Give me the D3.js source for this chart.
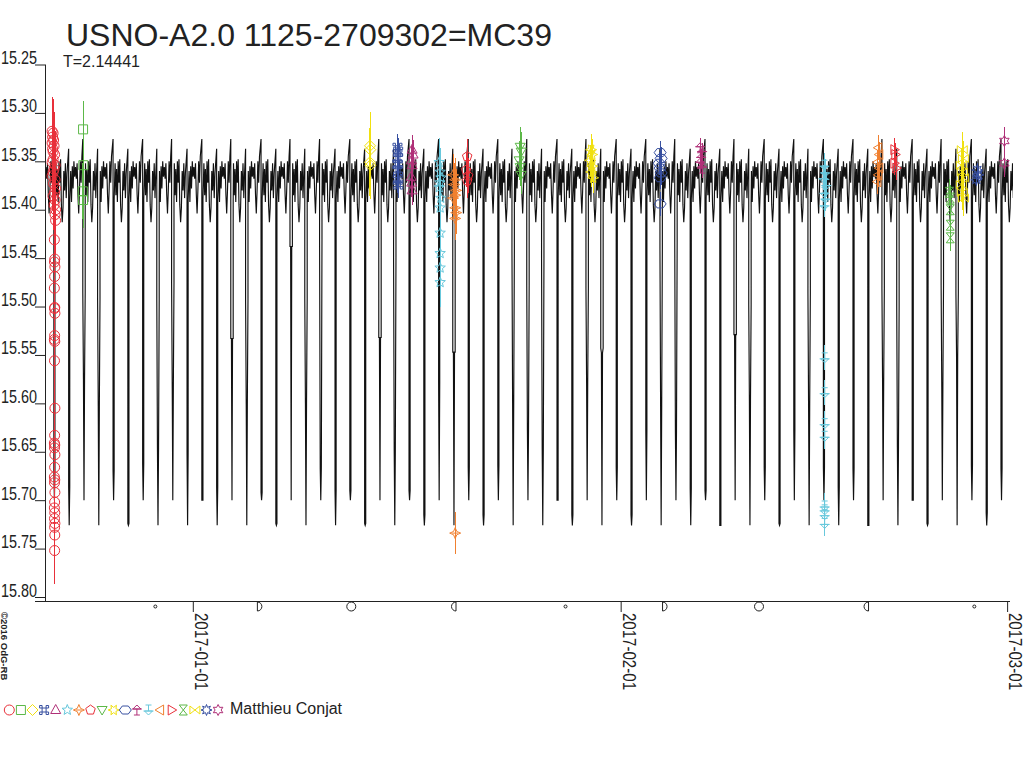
<!DOCTYPE html>
<html>
<head>
<meta charset="utf-8">
<script src="https://cdn.jsdelivr.net/npm/d3@7"></script>
<style>
body{margin:0;background:#fff}
text{font-family:"Liberation Sans",Arial,sans-serif;fill:#222}
</style>
</head>
<body>
<svg id="chart" width="1024" height="768"></svg>
<script>
// model ephemeris (period from the chart) and eclipse shape
const period = 2.14441
const epoch = new Date('2016-12-21T23:21:00Z')   // secondary minimum
const minSecondary = 15.700, minPrimary = 15.726
const topSecondary = 15.327, topPrimary = 15.337

// per eclipse: level where the two walls merge into one stroke
const eclipseThick = [15.669,15.686,15.575,15.603,15.669,15.724,15.662,15.646,15.584,15.651,
	15.700,15.686,15.533,15.601,15.692,15.724,15.438,15.600,15.667,15.690,
	15.690,15.724,15.532,15.650,15.690,15.715,15.578,15.547,15.666,15.715,
	15.664,15.600,15.628,15.648,15.700,15.715,15.579,15.548,15.666,15.715,
	15.628,15.602,15.628,15.688,15.690,15.726,15.529,15.597,15.666,15.724,
	15.628,15.604,15.666,15.686,15.667,15.726,15.579,15.645,15.700,15.724,
	15.583,15.552,15.664,15.713,15.667]
// per eclipse: level down to which the walls stay apart (null = none)
const eclipseDouble = [null,null,15.485,15.492,null,null,null,15.493,15.475,null,
	null,null,15.533,15.493,null,null,15.438,15.492,15.431,null,
	null,null,15.532,15.449,null,null,null,15.547,null,null,
	null,15.442,15.478,15.450,null,null,15.481,15.543,null,null,
	null,15.440,15.434,null,null,null,15.529,15.498,null,null,
	null,15.486,null,null,null,null,15.481,15.500,null,null,
	15.478,15.486,null,null,null]

// out of eclipse wiggle, phase 0 = secondary minimum
const profilePhase = [0.051,0.078,0.101,0.128,0.155,0.182,0.209,0.236,0.264,0.291,0.318,0.345,0.372,0.399,0.426,
	0.551,0.578,0.605,0.632,0.659,0.686,0.713,0.740,0.767,0.794,0.821,0.848,0.875,0.902,0.929]
const profileMag = [15.352,15.385,15.358,15.392,15.350,15.372,15.348,15.395,15.413,15.398,15.360,15.380,15.352,15.388,15.362,
	15.360,15.392,15.355,15.378,15.350,15.366,15.356,15.368,15.352,15.384,15.404,15.380,15.350,15.372,15.345]

// observations: [days since 2017-01-01 UT, magnitude], one array per night
const night01 = [[-10.196,15.319],[-10.123,15.321],[-10.159,15.325],[-10.087,15.328],[-10.196,15.331],[-10.051,15.334],
	[-10.159,15.337],[-10.123,15.340],[-10.014,15.343],[-10.123,15.348],[-10.196,15.351],[-9.978,15.354],[-10.051,15.358],
	[-10.123,15.361],[-10.196,15.365],[-9.978,15.369],[-10.087,15.373],[-9.942,15.378],[-10.014,15.382],[-10.123,15.386],
	[-9.978,15.390],[-10.051,15.395],[-9.942,15.400],[-9.978,15.405],[-9.942,15.411],
	[-10.03,15.431],[-10.00,15.451],[-10.02,15.454],[-9.99,15.459],[-10.01,15.469],[-10.03,15.481],[-10.00,15.501],
	[-10.02,15.502],[-9.99,15.507],[-10.01,15.530],[-10.03,15.534],[-10.00,15.536],[-10.02,15.556],[-9.99,15.605],
	[-10.01,15.633],[-10.03,15.641],[-10.00,15.643],[-10.02,15.646],[-9.99,15.653],[-10.01,15.666],[-10.03,15.676],
	[-10.00,15.679],[-10.02,15.682],[-9.99,15.692],[-10.01,15.702],[-10.03,15.708],[-10.00,15.713],[-10.02,15.719],
	[-9.99,15.724],[-10.01,15.728],[-10.00,15.736],[-10.01,15.752]]
const night02 = [[-7.95,15.317],[-7.93,15.354],[-7.97,15.381],[-7.95,15.390]]
const night03 = [[12.84,15.334],[12.86,15.338],[12.83,15.351],[12.87,15.354]]
const night04 = [[14.83,15.336],[14.88,15.340],[14.86,15.347],[14.82,15.353],[14.87,15.359],[14.85,15.369],[14.89,15.374]]
const night05 = [[15.89,15.338],[15.96,15.343],[15.85,15.349],[15.89,15.354],[15.82,15.366],[15.86,15.372],[15.89,15.380]]
const night06 = [[17.85,15.351],[17.92,15.361],[17.98,15.367],[17.90,15.372],[17.86,15.377],[17.97,15.388],[17.92,15.398],
	[17.92,15.424],[17.92,15.445],[17.92,15.460],[17.92,15.475]]
const night07 = [[18.86,15.364],[19.01,15.369],[18.93,15.374],[19.08,15.380],[19.01,15.385],[18.86,15.388],[19.01,15.398],
	[19.08,15.403],[19.01,15.409],[19.01,15.734]]
const night08 = [[19.88,15.345],[19.80,15.359],[19.95,15.365],[19.88,15.370]]
const night09 = [[23.72,15.335],[23.79,15.340],[23.64,15.349],[23.72,15.356],[23.79,15.364]]
const night10 = [[28.86,15.338],[28.94,15.343],[28.79,15.349],[28.94,15.355],[28.86,15.361],[29.01,15.367]]
const night11 = [[33.86,15.341],[33.93,15.347],[33.79,15.352],[33.86,15.357],[33.93,15.362],[33.86,15.367],[33.86,15.394]]
const night12 = [[36.76,15.336],[36.90,15.341],[36.83,15.347],[36.76,15.352],[36.90,15.357]]
const night13 = [[45.76,15.354],[45.83,15.361],[45.69,15.367],[45.90,15.374],[45.76,15.382],[45.83,15.388],[45.76,15.395],
	[45.78,15.553],[45.78,15.589],[45.78,15.621],[45.78,15.634],[45.78,15.706],[45.78,15.710],[45.78,15.715],[45.78,15.724]]
const night14 = [[49.67,15.336],[49.74,15.343],[49.60,15.351],[49.74,15.357],[49.67,15.364],[49.60,15.371]]
const night15 = [[50.83,15.338],[50.90,15.343],[50.83,15.352],[50.97,15.357]]
const night16 = [[54.81,15.382],[54.88,15.388],[54.88,15.400],[54.88,15.416],[54.88,15.429]]
const night17 = [[55.75,15.338],[55.83,15.347],[55.68,15.354],[55.75,15.361],[55.83,15.367],[55.68,15.374],[55.75,15.382],[55.83,15.388]]
const night18 = [[56.84,15.359],[56.91,15.364],[56.77,15.369]]
const night19 = [[58.80,15.329],[58.80,15.352]]
const nights = [night01,night02,night03,night04,night05,night06,night07,night08,night09,night10,
	night11,night12,night13,night14,night15,night16,night17,night18,night19]
const nightErr = [0.035,0.029,0.035,0.014,0.015,0.025,0.022,0.018,0.02,0.016,0.012,0.01,0.013,0.013,0.012,0.014,0.018,0.007,0.014]

const palette = ['#e8303a','#5cb848','#f0e010','#3850a0','#b03078','#68c8dc','#f08030']

const moonDates = ['2016-12-29T06:53Z','2017-01-05T19:47Z','2017-01-12T11:34Z','2017-01-19T22:13Z','2017-01-28T00:07Z',
	'2017-02-04T04:19Z','2017-02-11T00:33Z','2017-02-18T19:33Z','2017-02-26T14:58Z']
const moonPhases = ['new','first','full','last','new','first','full','last','new']

const monthTicks = ['2017-01-01','2017-02-01','2017-03-01']
const magTicks = [15.25,15.30,15.35,15.40,15.45,15.50,15.55,15.60,15.65,15.70,15.75,15.80]

const title = 'USNO-A2.0 1125-2709302=MC39'
const subtitle = 'T=2.14441'
const observer = 'Matthieu Conjat'

const DAY = 864e5
const t17 = Date.UTC(2017,0,1)

const svg = d3.select('#chart')

const x = d3.scaleUtc()
	.domain([new Date('2016-12-21T07:00:00Z'), new Date('2017-03-01T05:00:00Z')])
	.range([45,1010])
const y = d3.scaleLinear()
	.domain([15.25,15.80])
	.range([64.5,597])
const pxMs = (x.domain()[1]-x.domain()[0])/(x.range()[1]-x.range()[0])

// symbols
function poly(pts){
	return 'M'+pts.map(p=>p[0].toFixed(2)+','+p[1].toFixed(2)).join('L')+'Z'
}
function star(n,ro,ri,rot){
	const pts=[]
	for(let k=0;k<2*n;k++){
		const r=k%2?ri:ro, a=rot+k*Math.PI/n
		pts.push([r*Math.cos(a),r*Math.sin(a)])
	}
	return poly(pts)
}
function ngon(n,r,rot){
	const pts=[]
	for(let k=0;k<n;k++){
		const a=rot+k*2*Math.PI/n
		pts.push([r*Math.cos(a),r*Math.sin(a)])
	}
	return poly(pts)
}
const up=-Math.PI/2
const symbols=[
	'M5,0A5,5 0 1,1 -5,0A5,5 0 1,1 5,0Z',
	poly([[-4.5,-4.5],[4.5,-4.5],[4.5,4.5],[-4.5,4.5]]),
	poly([[0,-5.5],[5.5,0],[0,5.5],[-5.5,0]]),
	'M-2,-2H2V2H-2Z M-4.5,-4.5H-2V-2H-4.5Z M2,-4.5H4.5V-2H2Z M2,2H4.5V4.5H2Z M-4.5,2H-2V4.5H-4.5Z',
	poly([[0,-5.5],[5,3.5],[-5,3.5]]),
	star(5,5.5,2.4,up),
	star(4,5.5,2.3,up)+' M-3,0H3',
	ngon(5,5,up),
	poly([[0,5],[5,-3.5],[-5,-3.5]]),
	star(6,5.5,2.6,0),
	poly([[-6,0],[-3,-4],[3,-4],[6,0],[3,4],[-3,4]]),
	'M0,-5L4,-1L-4,-1Z M-5,-1H5 M0,-1V5 M-3,5H3',
	'M0,5L4,1L-4,1Z M-5,1H5 M0,1V-5 M-3,-5H3',
	poly([[-5,0],[3.5,-5],[3.5,5]]),
	poly([[5,0],[-3.5,-5],[-3.5,5]]),
	'M-4,-5H4L-4,5H4Z',
	'M-5,-4V4L5,-4V4Z',
	star(8,5.5,2.8,up),
	star(6,5.5,3,up)
]

// title
svg.append('text')
	.attr('x',66).attr('y',46)
	.style('font-size','32px')
	.text(title)
svg.append('text')
	.attr('x',63).attr('y',67)
	.style('font-size','16px')
	.text(subtitle)

// model curve
const curve=[]
for(let i=-2;i<=66;i++){
	const te=+epoch+i*period/2*DAY
	const sec=i%2===0
	const top=sec?topSecondary:topPrimary
	const bot=sec?minSecondary:minPrimary
	const th=eclipseThick[i]??(sec?15.62:15.66)
	const db=eclipseDouble[i]??null
	const w=db===null?0.55:1.2
	curve.push([te-w*pxMs,top])
	if(db!==null) curve.push([te-1.2*pxMs,db])
	curve.push([te-0.55*pxMs,th],[te,bot],[te+0.55*pxMs,th])
	if(db!==null) curve.push([te+1.2*pxMs,db])
	curve.push([te+w*pxMs,15.39])
	const base=sec?0:0.5
	profilePhase.forEach((ph,k)=>{
		if(ph>=base&&ph<base+0.5) curve.push([te+(ph-base)*period*DAY,profileMag[k]])
	})
}

svg.append('clipPath').attr('id','plot')
	.append('rect').attr('x',45).attr('y',0).attr('width',968).attr('height',768)

const line=d3.line()
	.x(d=>x(new Date(d[0])))
	.y(d=>y(d[1]))

svg.append('path')
	.datum(curve)
	.attr('clip-path','url(#plot)')
	.attr('d',line)
	.attr('fill','none')
	.attr('stroke','#111')
	.attr('stroke-width',1.15)

// observations
const obs=svg.append('g')
nights.forEach((night,n)=>{
	const col=palette[n%palette.length]
	const g=obs.append('g')
	g.selectAll('line')
		.data(night)
		.enter()
		.append('line')
		.attr('x1',d=>x(new Date(t17+d[0]*DAY)))
		.attr('x2',d=>x(new Date(t17+d[0]*DAY)))
		.attr('y1',d=>y(d[1]-nightErr[n]))
		.attr('y2',d=>y(d[1]+nightErr[n]))
		.attr('stroke',col)
		.attr('stroke-width',1)
		.attr('shape-rendering','crispEdges')
	g.selectAll('path')
		.data(night)
		.enter()
		.append('path')
		.attr('d',symbols[n])
		.attr('transform',d=>`translate(${x(new Date(t17+d[0]*DAY))},${y(d[1])})`)
		.attr('fill','none')
		.attr('stroke',col)
		.attr('stroke-width',1)
})

// axes
const yAxis=d3.axisLeft(y)
	.tickValues(magTicks)
	.tickSize(10)
	.tickSizeOuter(0)
	.tickFormat(d3.format('.2f'))
const gy=svg.append('g')
	.attr('transform','translate(45,0)')
	.style('color','#222')
	.call(yAxis)
gy.select('.domain').remove()
gy.selectAll('text')
	.attr('x',-8)
	.attr('dy',-1)
	.attr('font-family','"Liberation Sans",Arial,sans-serif')
	.attr('font-size',17.5)
	.attr('textLength',36)
	.attr('lengthAdjust','spacingAndGlyphs')
svg.append('line')
	.attr('x1',45.5).attr('x2',45.5)
	.attr('y1',y(15.25)).attr('y2',601)
	.attr('stroke','#222')

const xAxis=d3.axisBottom(x)
	.tickValues(monthTicks.map(d=>new Date(d+'T00:00:00Z')))
	.tickSize(11)
	.tickSizeOuter(0)
	.tickFormat(d3.utcFormat('%Y-%m-%d'))
const gx=svg.append('g')
	.attr('transform','translate(0,601)')
	.style('color','#222')
	.call(xAxis)
gx.select('.domain').remove()
gx.selectAll('text')
	.attr('x',0).attr('y',0).attr('dy',0)
	.attr('transform','translate(1.5,12) rotate(90)')
	.attr('text-anchor','start')
	.attr('font-family','"Liberation Sans",Arial,sans-serif')
	.attr('font-size',18)
	.attr('textLength',77)
	.attr('lengthAdjust','spacingAndGlyphs')
svg.append('line')
	.attr('x1',35).attr('x2',1010)
	.attr('y1',601.5).attr('y2',601.5)
	.attr('stroke','#222')

// moon phases
const moonShape={
	new:'M1.5,0A1.5,1.5 0 1,1 -1.5,0A1.5,1.5 0 1,1 1.5,0Z',
	first:'M-2,-4.5A4.5,4.5 0 0,1 -2,4.5Z',
	full:'M4.5,0A4.5,4.5 0 1,1 -4.5,0A4.5,4.5 0 1,1 4.5,0Z',
	last:'M2,-4.5A4.5,4.5 0 0,0 2,4.5Z'
}
svg.append('g').selectAll('path')
	.data(moonDates.map((d,i)=>({date:new Date(d),phase:moonPhases[i]})))
	.enter()
	.append('path')
	.attr('d',d=>moonShape[d.phase])
	.attr('transform',d=>`translate(${x(d.date)},606.5)`)
	.attr('fill','none')
	.attr('stroke','#222')
	.attr('stroke-width',1)

// copyright
svg.append('text')
	.attr('transform','translate(0.5,612) rotate(90)')
	.style('font-size','9.5px')
	.style('font-weight','bold')
	.text('©2016 OdG-RB')

// legend
const leg=svg.append('g')
symbols.forEach((s,k)=>{
	leg.append('path')
		.attr('d',s)
		.attr('transform',`translate(${9.3+11.6*k},710)`)
		.attr('fill','none')
		.attr('stroke',palette[k%palette.length])
		.attr('stroke-width',1)
})
leg.append('text')
	.attr('x',230).attr('y',713.5)
	.style('font-size','16px')
	.text(observer)
</script>
</body>
</html>
